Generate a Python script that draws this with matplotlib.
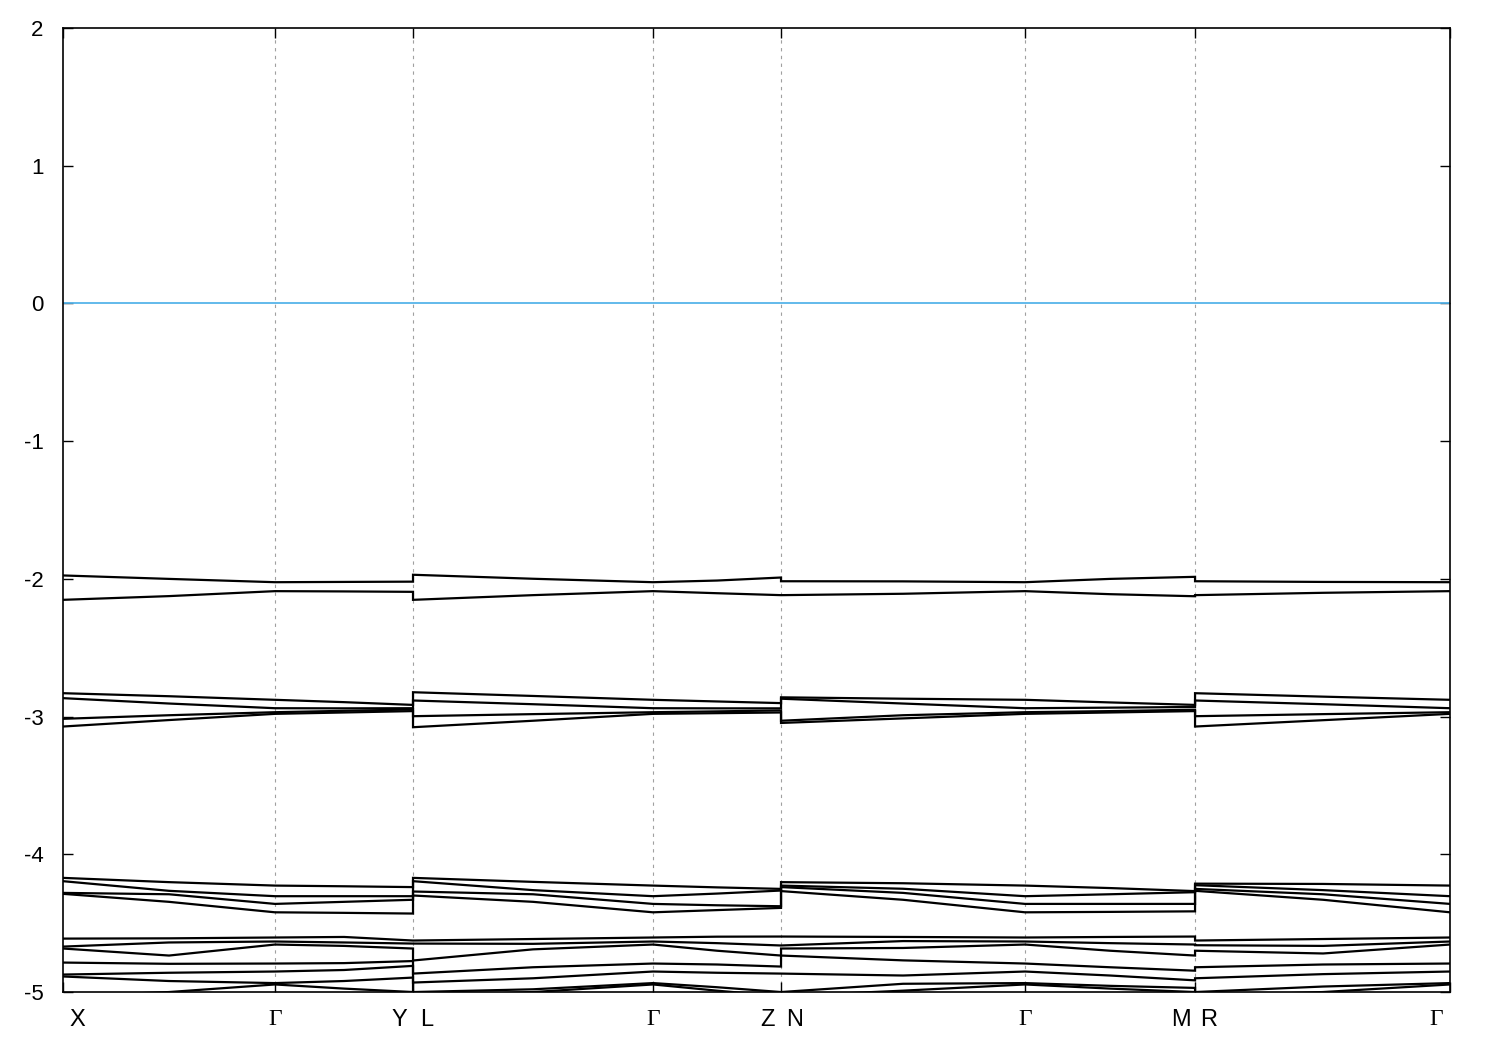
import matplotlib
matplotlib.use("Agg")
import matplotlib.pyplot as plt
import numpy as np

plt.rcParams['font.family'] = ['Liberation Sans', 'DejaVu Sans']
plt.rcParams['axes.unicode_minus'] = False

# k-path: X-G-Y | L-G-Z | N-G-M | R-G, sampled at start, middle, end of each leg
kx = [0, 106, 212, 281, 350,
      350, 470, 590, 654, 718,
      718, 840, 962, 1047, 1132,
      1132, 1260, 1387]
nodes = [0, 212, 350, 590, 718, 962, 1132, 1387]

# band energies (eV) at the kx points above
bands = [
    # group near -2
    [-1.975, -2.000, -2.024, -2.022, -2.020, -1.970, -1.999, -2.024, -2.012, -1.990,
     -2.017, -2.018, -2.024, -2.000, -1.985, -2.017, -2.022, -2.024],
    [-2.152, -2.125, -2.089, -2.091, -2.094, -2.152, -2.118, -2.089, -2.104, -2.118,
     -2.118, -2.108, -2.089, -2.111, -2.126, -2.118, -2.101, -2.089],
    # group near -3
    [-2.830, -2.852, -2.878, -2.895, -2.915, -2.823, -2.850, -2.878, -2.890, -2.902,
     -2.860, -2.870, -2.878, -2.897, -2.915, -2.830, -2.855, -2.878],
    [-2.866, -2.905, -2.939, -2.940, -2.939, -2.883, -2.910, -2.939, -2.940, -2.940,
     -2.870, -2.905, -2.939, -2.935, -2.930, -2.883, -2.910, -2.939],
    [-3.016, -2.990, -2.968, -2.958, -2.948, -2.997, -2.982, -2.968, -2.962, -2.955,
     -3.030, -2.990, -2.968, -2.960, -2.950, -2.997, -2.982, -2.968],
    [-3.072, -3.025, -2.980, -2.970, -2.960, -3.077, -3.030, -2.980, -2.975, -2.970,
     -3.046, -3.013, -2.980, -2.970, -2.960, -3.072, -3.026, -2.980],
    # group near -4.2
    [-4.171, -4.202, -4.227, -4.232, -4.238, -4.171, -4.200, -4.227, -4.240, -4.251,
     -4.202, -4.210, -4.227, -4.245, -4.267, -4.213, -4.215, -4.227],
    [-4.195, -4.265, -4.304, -4.304, -4.304, -4.195, -4.260, -4.304, -4.285, -4.263,
     -4.227, -4.250, -4.304, -4.290, -4.275, -4.224, -4.260, -4.304],
    [-4.280, -4.290, -4.360, -4.345, -4.330, -4.270, -4.290, -4.360, -4.370, -4.377,
     -4.238, -4.280, -4.360, -4.360, -4.360, -4.251, -4.290, -4.360],
    [-4.287, -4.345, -4.421, -4.425, -4.430, -4.299, -4.345, -4.421, -4.405, -4.389,
     -4.267, -4.330, -4.421, -4.418, -4.414, -4.265, -4.330, -4.421],
    # group near -4.6 .. -5
    [-4.612, -4.610, -4.604, -4.600, -4.626, -4.626, -4.615, -4.604, -4.598, -4.597,
     -4.597, -4.600, -4.604, -4.600, -4.597, -4.626, -4.615, -4.604],
    [-4.670, -4.640, -4.633, -4.640, -4.648, -4.648, -4.650, -4.633, -4.645, -4.662,
     -4.662, -4.630, -4.633, -4.645, -4.655, -4.660, -4.665, -4.633],
    [-4.684, -4.735, -4.655, -4.665, -4.684, -4.771, -4.690, -4.655, -4.700, -4.735,
     -4.684, -4.680, -4.655, -4.700, -4.735, -4.700, -4.720, -4.655],
    [-4.786, -4.795, -4.793, -4.790, -4.775, -4.866, -4.820, -4.793, -4.800, -4.815,
     -4.735, -4.770, -4.793, -4.820, -4.845, -4.820, -4.800, -4.793],
    [-4.873, -4.860, -4.851, -4.840, -4.810, -4.931, -4.900, -4.851, -4.860, -4.866,
     -4.866, -4.880, -4.851, -4.880, -4.915, -4.900, -4.870, -4.851],
    [-4.887, -4.920, -4.935, -4.920, -4.895, -5.000, -4.980, -4.935, -4.965, -5.000,
     -5.000, -4.940, -4.935, -4.955, -4.970, -5.000, -4.960, -4.935],
    [-5.030, -5.000, -4.945, -4.975, -5.000, -5.030, -5.000, -4.945, -4.990, -5.030,
     -5.030, -4.990, -4.945, -4.975, -5.000, -5.030, -5.000, -4.945],
]

xlabels = ['X', 'Γ', 'Y', 'L', 'Γ', 'Z', 'N', 'Γ', 'M', 'R', 'Γ']
# which node each label belongs to, and side: -1 left of node, 0 centred, +1 right
label_node = [0, 1, 2, 2, 3, 4, 4, 5, 6, 6, 7]
label_side = [1, 0, -1, 1, 0, -1, 1, 0, -1, 1, -1]

fig = plt.figure(figsize=(15, 10.5), dpi=100)
ax = fig.add_axes([0.042, 0.0552, 0.9247, 0.9181])

for b in bands:
    ax.plot(kx, b, color='black', lw=1.6, solid_joinstyle='miter')

ax.axhline(0, color='#56b4e9', lw=1.3)

for n in nodes[1:-1]:
    ax.axvline(n, color='#a0a0a0', lw=0.8, ls=(0, (3, 4)), zorder=0)

ax.set_xlim(nodes[0], nodes[-1])
ax.set_ylim(-5, 2)
ax.set_yticks(range(-5, 3))
ax.set_yticklabels([str(v) for v in range(-5, 3)])
ax.set_xticks(nodes)
ax.set_xticklabels([])
ax.tick_params(axis='both', direction='in', length=7, width=1, top=True, right=True,
               labelsize=16, pad=14)
for s in ax.spines.values():
    s.set_linewidth(1.2)

off = 14
for lab, ni, side in zip(xlabels, label_node, label_side):
    x = nodes[ni] + side * off
    fam = ['Liberation Serif', 'DejaVu Serif'] if lab == 'Γ' else ['Liberation Sans', 'DejaVu Sans']
    ax.text(x, -5.2, lab, ha='center', va='center', fontsize=17, family=fam)

fig.savefig('out.png', dpi=100)
